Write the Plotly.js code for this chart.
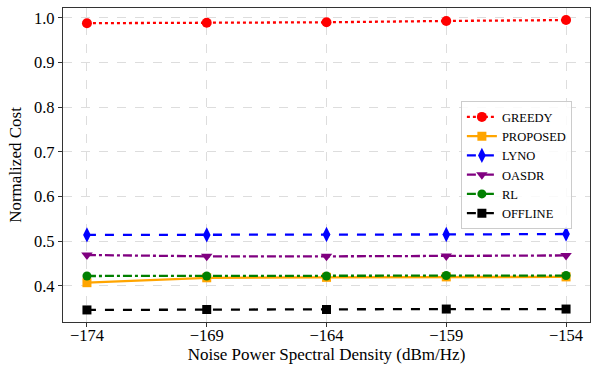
<!DOCTYPE html>
<html><head><meta charset="utf-8">
<script src="https://cdn.plot.ly/plotly-3.0.1.min.js"></script>
<style>body{margin:0;background:#fff}#c{width:592px;height:366px}</style>
</head><body><div id="c"></div>
<script>
const xVals = [-174, -169, -164, -159, -154];
const greedy = [0.988, 0.989, 0.990, 0.993, 0.995];
const proposed = [0.407, 0.418, 0.419, 0.420, 0.420];
const lyno = [0.514, 0.514, 0.515, 0.515, 0.516];
const oasdr = [0.469, 0.466, 0.466, 0.467, 0.468];
const rl = [0.422, 0.422, 0.422, 0.423, 0.423];
const offline = [0.346, 0.347, 0.347, 0.348, 0.348];
const xTicks = [-174, -169, -164, -159, -154];
const xTickText = ['\u2212174', '\u2212169', '\u2212164', '\u2212159', '\u2212154'];

function tr(name, y, color, dash, symbol, msize) {
  return {x: xVals, y: y, name: name, type: 'scatter', mode: 'lines+markers',
    line: {color: color, width: 2.3, dash: dash},
    marker: {color: color, symbol: symbol, size: msize}};
}
const data = [
  tr('GREEDY', greedy, 'red', 'dot', 'circle', 10),
  tr('PROPOSED', proposed, 'orange', 'solid', 'square', 9),
  tr('LYNO', lyno, 'blue', 'dash', 'diamond-tall', 11),
  tr('OASDR', oasdr, 'purple', 'dashdot', 'triangle-down', 10),
  tr('RL', rl, 'green', 'dashdot', 'circle', 9),
  tr('OFFLINE', offline, 'black', 'dash', 'square', 9)
];
const font = {family: 'Liberation Serif, Times New Roman, serif', color: '#000'};
const layout = {
  width: 592, height: 366,
  margin: {l: 63, r: 2, t: 8, b: 44},
  paper_bgcolor: '#fff', plot_bgcolor: '#fff',
  font: Object.assign({size: 16}, font),
  showlegend: true,
  legend: {x: 0.755, y: 0.703, xanchor: 'left', yanchor: 'top',
    bordercolor: '#ccc', borderwidth: 1, bgcolor: 'rgba(255,255,255,0.85)',
    font: Object.assign({size: 12.5}, font), tracegroupgap: 0, itemwidth: 30},
  xaxis: {range: [-175, -153], tickvals: xTicks, ticktext: xTickText,
    showline: true, linecolor: '#333', linewidth: 1.2, mirror: true,
    ticks: 'outside', ticklen: 4, tickcolor: '#333', ticklabelstandoff: -6,
    showgrid: true, gridcolor: '#ddd', griddash: 'dash', gridwidth: 1,
    zeroline: false, tickfont: Object.assign({size: 16.5}, font),
    title: {text: 'Noise Power Spectral Density (dBm/Hz)', font: Object.assign({size: 17}, font), standoff: 4}},
  yaxis: {range: [0.319, 1.022], tickvals: [0.4,0.5,0.6,0.7,0.8,0.9,1.0],
    tickformat: '.1f',
    showline: true, linecolor: '#333', linewidth: 1.2, mirror: true,
    ticks: 'outside', ticklen: 4, tickcolor: '#333',
    showgrid: true, gridcolor: '#ddd', griddash: 'dash', gridwidth: 1,
    zeroline: false, tickfont: Object.assign({size: 16.5}, font),
    title: {text: 'Normalized Cost', font: Object.assign({size: 17}, font), standoff: 8}}
};
Plotly.newPlot('c', data, layout, {staticPlot: true, displayModeBar: false});
</script></body></html>
